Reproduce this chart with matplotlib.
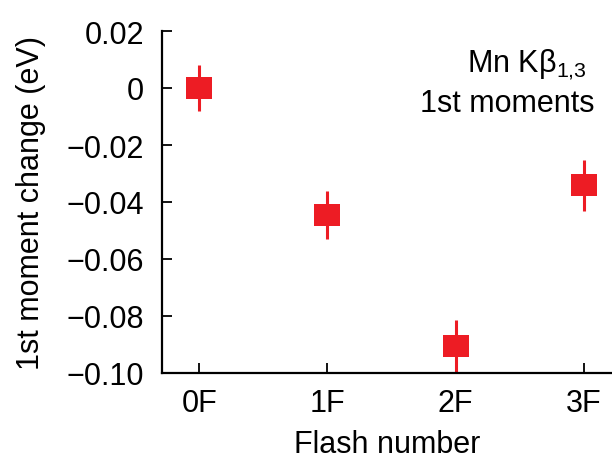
import matplotlib
matplotlib.use("Agg")
import matplotlib.pyplot as plt

categories = ["0F", "1F", "2F", "3F"]
values = [0.0, -0.0447, -0.0907, -0.0342]
errors = [0.0081, 0.0084, 0.0093, 0.0090]
yticks = [0.02, 0, -0.02, -0.04, -0.06, -0.08, -0.10]
ytick_labels = ["0.02", "0", "\u22120.02", "\u22120.04", "\u22120.06", "\u22120.08", "\u22120.10"]

plt.rcParams['font.family'] = ['Liberation Sans', 'DejaVu Sans']
plt.rcParams['mathtext.fontset'] = 'custom'
plt.rcParams['mathtext.rm'] = 'Liberation Sans'

FS = 22

fig = plt.figure(figsize=(6.12, 4.64), dpi=100)
ax = fig.add_axes([162/612, (464-374)/464, (612-162)/612, (374-32)/464])

x = list(range(len(categories)))
rect = [(-1.2, -1), (1.2, -1), (1.2, 1), (-1.2, 1), (-1.2, -1)]
ax.errorbar(x, values, yerr=errors, fmt='none', ecolor='#ED1C24', elinewidth=2.2, capsize=0, zorder=2)
ax.plot(x, values, linestyle='none', marker=rect, markersize=19, color='#ED1C24',
        markeredgewidth=0, zorder=3)

ax.set_xlim(-0.29, 3.22)
ax.set_ylim(-0.10, 0.02)
ax.set_xticks(x)
ax.set_xticklabels(categories)
ax.set_yticks(yticks)
ax.set_yticklabels(ytick_labels)

for s in ['top', 'right']:
    ax.spines[s].set_visible(False)
for s in ['left', 'bottom']:
    ax.spines[s].set_linewidth(1.6)
ax.tick_params(direction='in', length=7.5, width=1.3, labelsize=FS)
ax.tick_params(axis='x', pad=11)
ax.tick_params(axis='y', pad=13)

ax.set_ylabel("1st moment change (eV)", fontsize=FS, labelpad=15)
ax.set_xlabel("Flash number", fontsize=FS, labelpad=8)

ax.text(0.944, 0.883, "Mn K\u03b2$_{\\mathregular{1{,}3}}$", transform=ax.transAxes,
        ha='right', va='baseline', fontsize=FS)
ax.text(0.962, 0.766, "1st moments", transform=ax.transAxes,
        ha='right', va='baseline', fontsize=FS)

fig.savefig("out.png", dpi=100)
